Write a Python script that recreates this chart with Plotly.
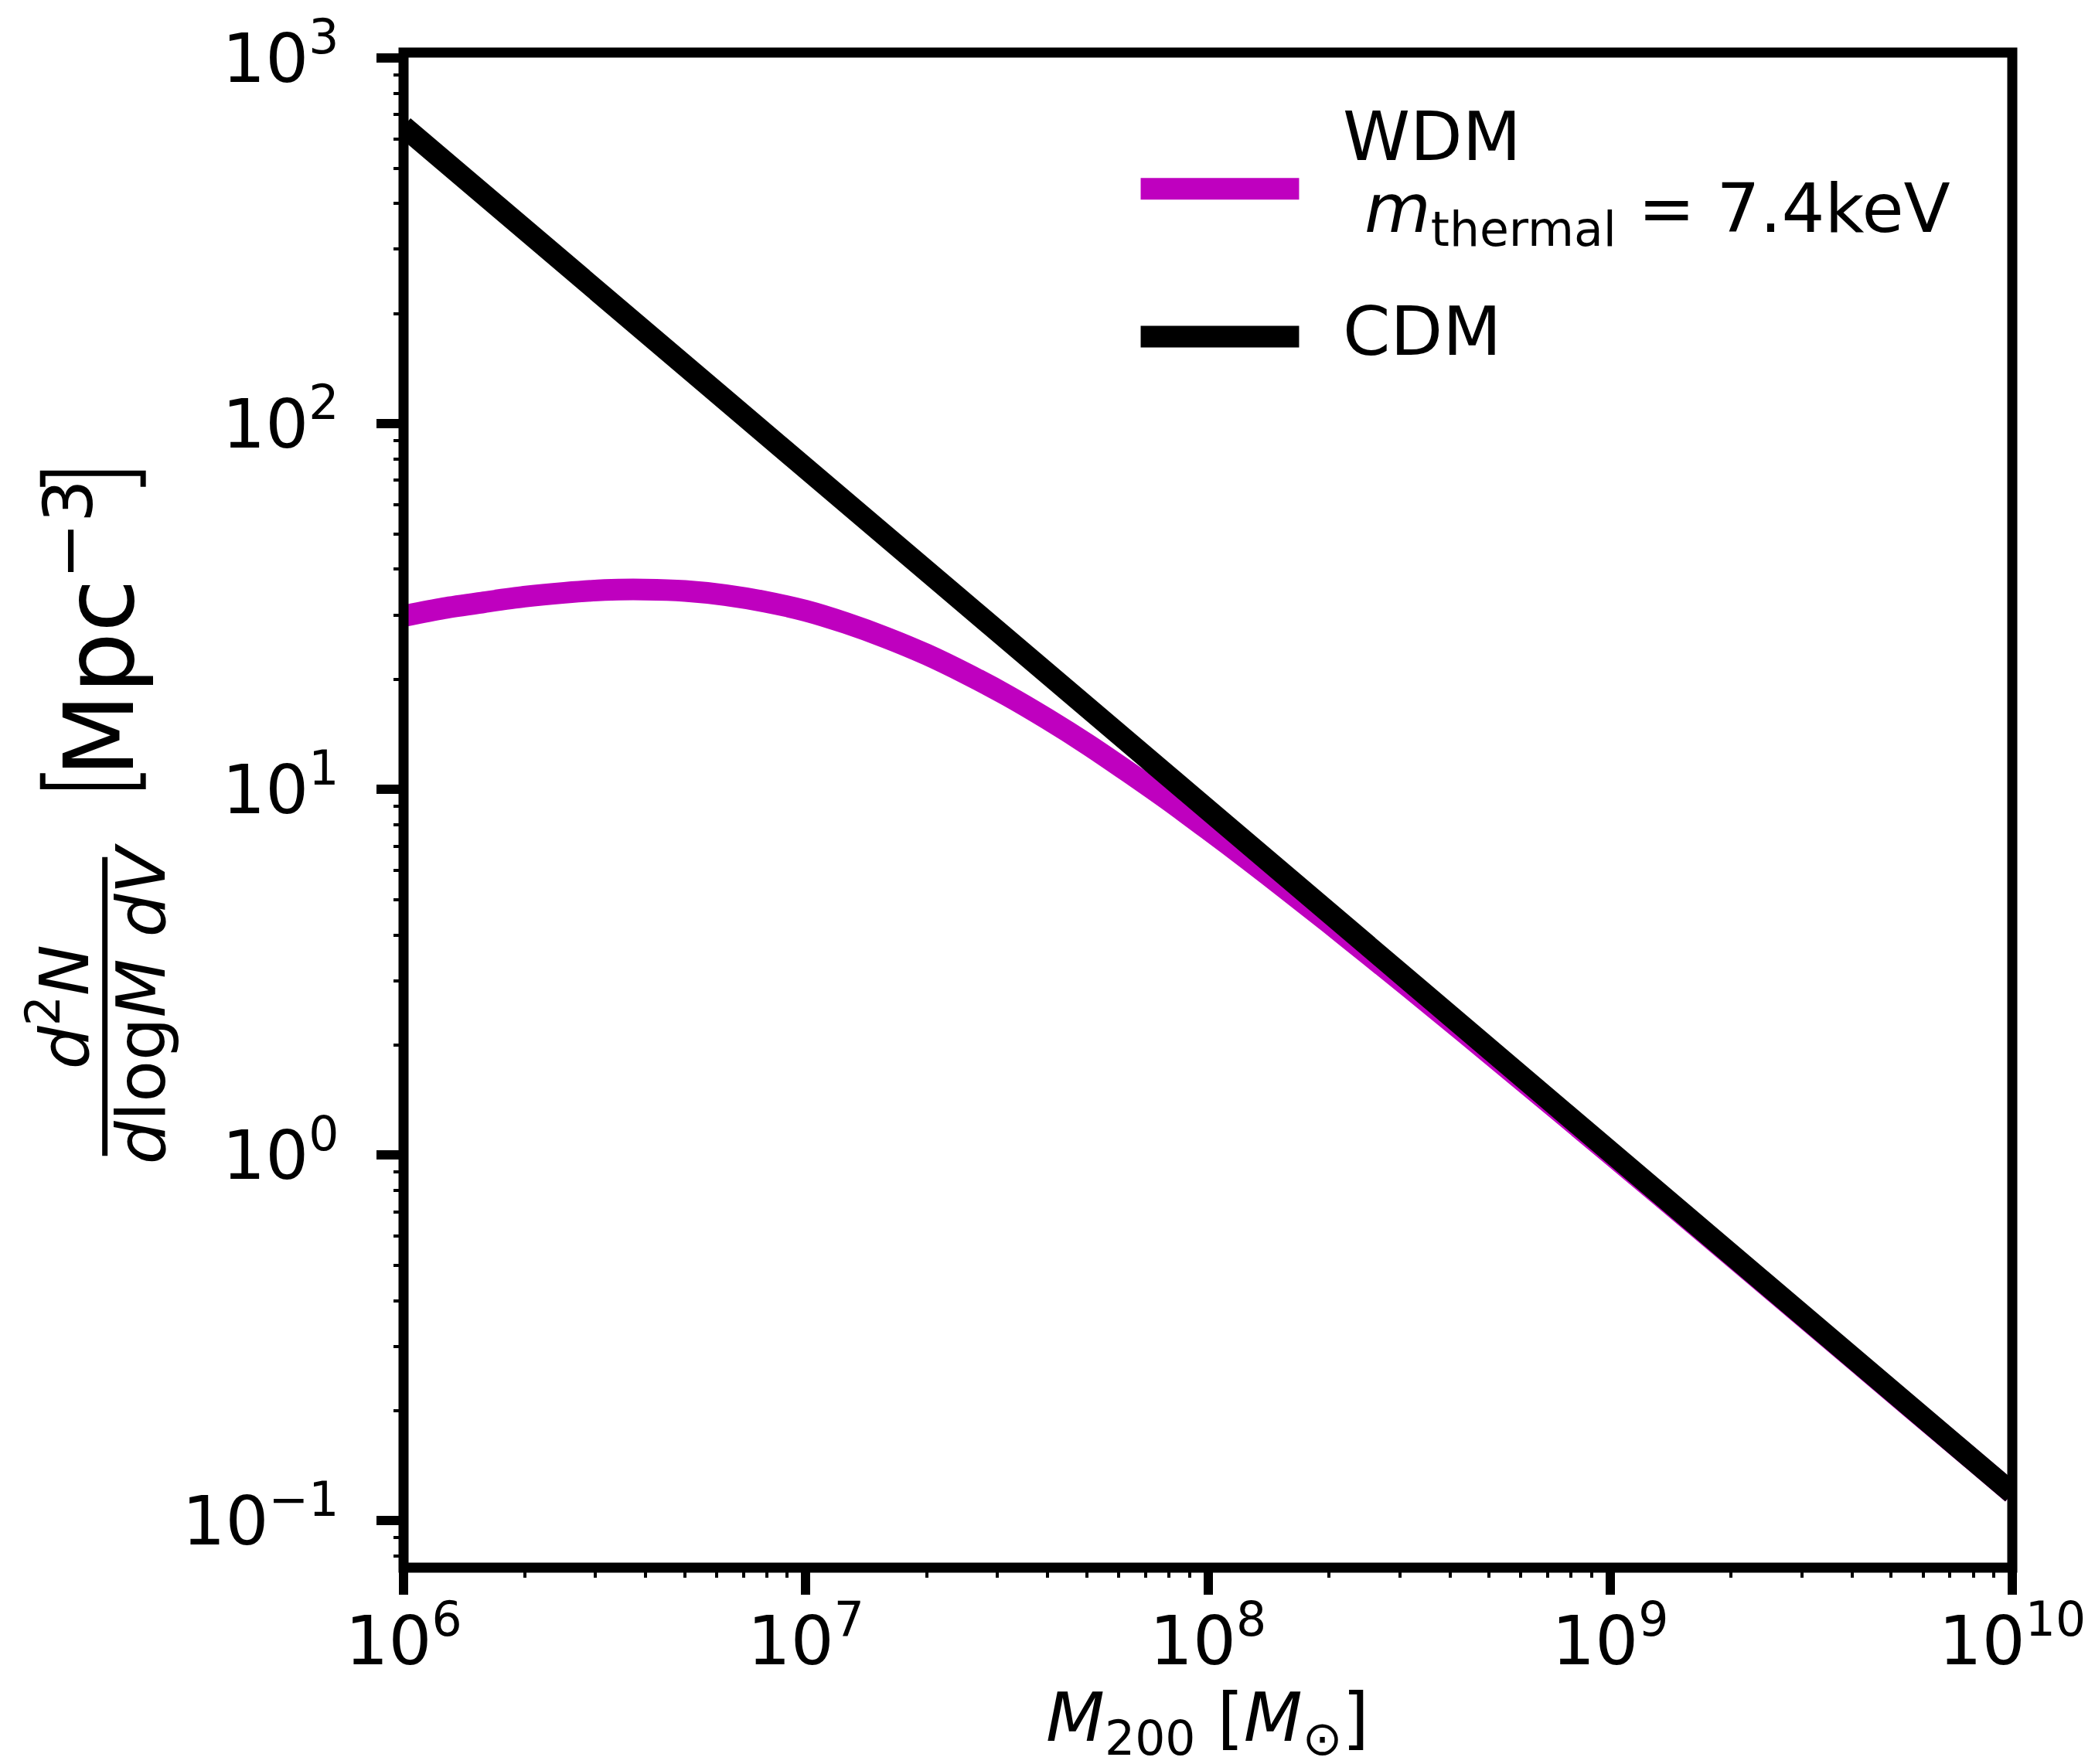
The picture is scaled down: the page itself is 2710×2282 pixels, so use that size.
import plotly.graph_objects as go

# ---------------- data ----------------
mass_cdm = [1e6, 1e7, 1e8, 1e9, 1e10]
n_cdm = [650.0, 75.6, 8.79, 1.022, 0.119]

mass_wdm = [1.0e6, 1.259e6, 1.585e6, 1.995e6, 2.512e6, 3.162e6, 3.981e6, 5.012e6,
            6.310e6, 7.943e6, 1.0e7, 1.259e7, 1.585e7, 1.995e7, 2.512e7, 3.162e7,
            3.981e7, 5.012e7, 6.310e7, 7.943e7, 1.0e8, 1.259e8, 1.585e8, 1.995e8,
            2.512e8, 3.162e8, 5.623e8, 1.0e9, 1.778e9, 3.162e9, 5.623e9, 1.0e10]
n_wdm = [29.8, 31.3, 32.5, 33.65, 34.5, 35.1, 35.2, 34.9,
         34.0, 32.6, 30.8, 28.5, 26.0, 23.4, 20.7, 18.1,
         15.6, 13.3, 11.2, 9.38, 7.78, 6.43, 5.28, 4.33,
         3.53, 2.88, 1.71, 1.009, 0.593, 0.347, 0.203, 0.119]

x_tickvals = [1e6, 1e7, 1e8, 1e9, 1e10]
x_ticktext = ["10<sup>6</sup>", "10<sup>7</sup>", "10<sup>8</sup>", "10<sup>9</sup>", "10<sup>10</sup>"]
y_tickvals = [0.1, 1, 10, 100, 1000]
y_ticktext = ["10<sup>\u22121</sup>", "10<sup>0</sup>", "10<sup>1</sup>", "10<sup>2</sup>", "10<sup>3</sup>"]

labels = ["WDM", "CDM"]
WDM_COLOR = "#bf00bf"
CDM_COLOR = "#000000"

# ---------------- geometry ----------------
W, H = 2710, 2282
L, R, T, B = 522, 2604, 60, 2028
PW, PH = R - L, B - T
FONT = "DejaVu Sans"
FS = 88


def px(x):
    return (x - L) / PW


def py(y):
    return (B - y) / PH


fig = go.Figure()
fig.add_trace(go.Scatter(x=mass_wdm, y=n_wdm, mode="lines", name=labels[0],
                         line=dict(color=WDM_COLOR, width=28, shape="spline", smoothing=0.8),
                         showlegend=False))
fig.add_trace(go.Scatter(x=mass_cdm, y=n_cdm, mode="lines", name=labels[1],
                         line=dict(color=CDM_COLOR, width=28),
                         showlegend=False))

axis_common = dict(
    ticks="outside", ticklen=34, tickwidth=12, tickcolor="black",
    showgrid=False, zeroline=False, showline=False,
    tickfont=dict(size=FS, family=FONT, color="black"),
    minor=dict(ticks="outside", ticklen=12, tickwidth=3.5, tickcolor="black",
               dtick="D1", showgrid=False),
)

fig.update_layout(
    width=W, height=H,
    margin=dict(l=L, r=W - R, t=T, b=H - B, pad=0),
    paper_bgcolor="white", plot_bgcolor="white",
    font=dict(family=FONT, size=FS, color="black"),
    xaxis=dict(type="log", range=[6, 10], tickmode="array",
               tickvals=x_tickvals, ticktext=x_ticktext,
               ticklabelstandoff=-16, **axis_common),
    yaxis=dict(type="log", range=[-1.128, 3.015], tickmode="array",
               tickvals=y_tickvals, ticktext=y_ticktext,
               ticklabelstandoff=31, **axis_common),
)

shapes = []
# frame (spines), centred on the plot edge like matplotlib
shapes.append(dict(type="rect", xref="paper", yref="paper", x0=0, x1=1, y0=0, y1=1,
                   line=dict(color="black", width=13), layer="above"))
# legend swatches
shapes.append(dict(type="line", xref="paper", yref="paper", x0=px(1476), x1=px(1681),
                   y0=py(237), y1=py(237), line=dict(color=WDM_COLOR, width=28)))
shapes.append(dict(type="line", xref="paper", yref="paper", x0=px(1476), x1=px(1681),
                   y0=py(429), y1=py(429), line=dict(color=CDM_COLOR, width=28)))
# fraction bar of y label
shapes.append(dict(type="line", xref="paper", yref="paper", x0=px(135.5), x1=px(135.5),
                   y0=py(1105), y1=py(1493), line=dict(color="black", width=7)))


def bracket_path(x_left, x_right, y_stem, y_tip):
    pts = [(x_left, y_tip), (x_left, y_stem), (x_right, y_stem), (x_right, y_tip)]
    return "M " + " L ".join(f"{px(a):.6f},{py(b):.6f}" for a, b in pts)


# tall \left[ ... \right] brackets of the y label (rotated)
shapes.append(dict(type="path", xref="paper", yref="paper",
                   path=bracket_path(55, 185, 1013.5, 996),
                   line=dict(color="black", width=7)))
shapes.append(dict(type="path", xref="paper", yref="paper",
                   path=bracket_path(55, 185, 606.5, 624),
                   line=dict(color="black", width=7)))

ann = []


def add_text(text, x, y, size=FS, xanchor="center", yanchor="middle", angle=0):
    ann.append(dict(text=text, xref="paper", yref="paper", x=px(x), y=py(y),
                    xanchor=xanchor, yanchor=yanchor, showarrow=False, textangle=angle,
                    font=dict(size=size, family=FONT, color="black")))


# legend texts
add_text("WDM", 1736, 169, xanchor="left")
add_text("<i>m</i><sub>thermal</sub> = 7.4keV", 1764, 268, xanchor="left")
add_text("CDM", 1736, 422, xanchor="left")

# x-axis title
add_text("<i>M</i><sub>200</sub> [<i>M</i><sub>\u2299</sub>]", 1562, 2228)

# y-axis title pieces
add_text("<i>d</i><sup>2</sup><i>N</i>", 78, 1300, angle=-90)
add_text("<i>d</i>log<i>M</i> <i>dV</i>", 183, 1295, angle=-90)
add_text("Mpc<sup>\u22123</sup>", 120, 808, size=125, angle=-90)

fig.update_layout(shapes=shapes, annotations=ann)

fig.write_html("out.html")
